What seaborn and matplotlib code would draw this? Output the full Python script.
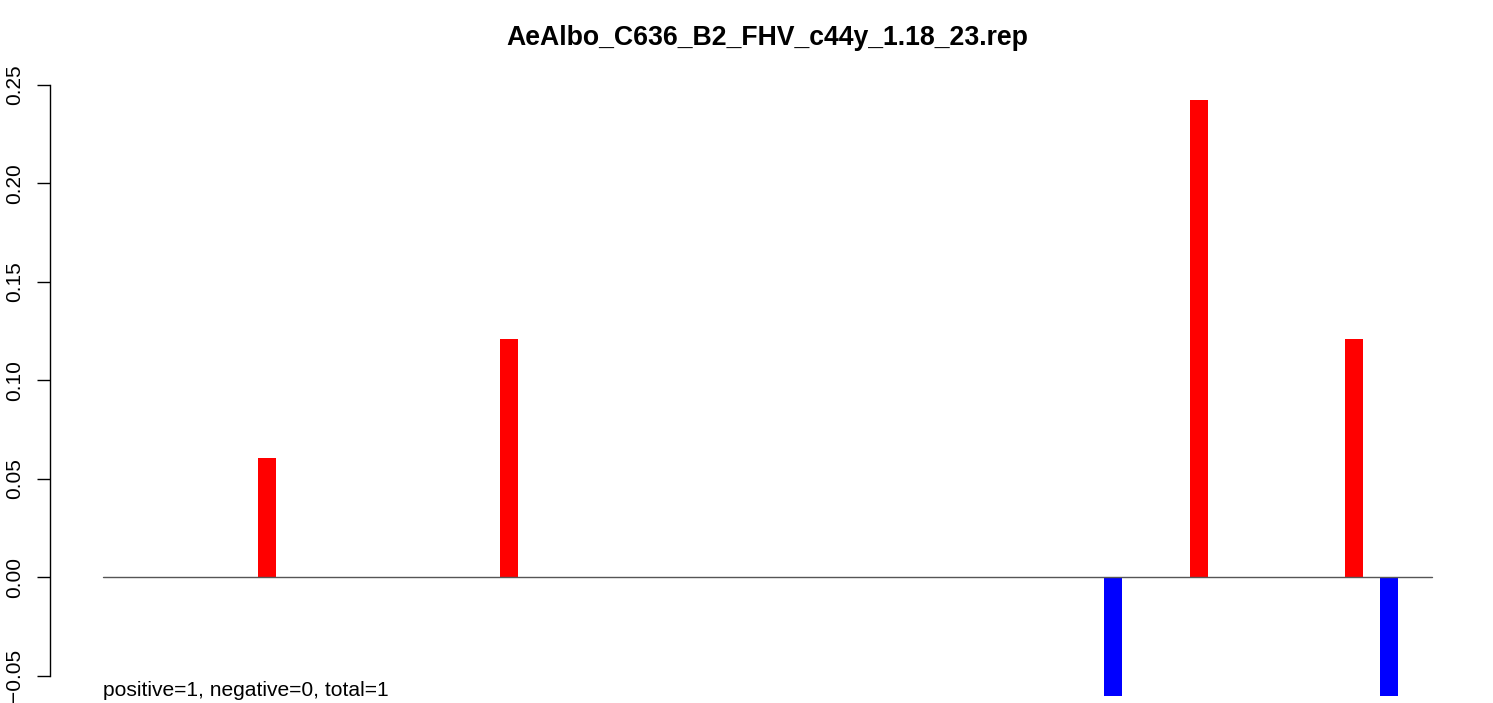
import matplotlib
matplotlib.use("Agg")
import matplotlib.pyplot as plt
import seaborn as sns
import pandas as pd

# read-out of the reference: positions along the read, sense (red) / antisense (blue)
positions = list(range(1, 78))
sense_pos = [10, 24, 64, 73]
sense_val = [0.0604, 0.1208, 0.2420, 0.1208]
antisense_pos = [59, 75]
antisense_val = [-0.0604, -0.0604]

ytick_values = [-0.05, 0.00, 0.05, 0.10, 0.15, 0.20, 0.25]
ytick_labels = ["\u22120.05", "0.00", "0.05", "0.10", "0.15", "0.20", "0.25"]

title = "AeAlbo_C636_B2_FHV_c44y_1.18_23.rep"
note = "positive=1, negative=0, total=1"

# build a long table, zero where there's nothing
sense_map = dict(zip(sense_pos, sense_val))
anti_map = dict(zip(antisense_pos, antisense_val))
rows = []
for p in positions:
    rows.append({"pos": p, "strand": "sense", "value": sense_map.get(p, 0.0)})
    rows.append({"pos": p, "strand": "antisense", "value": anti_map.get(p, 0.0)})
df = pd.DataFrame(rows)

sns.set_style("ticks")
plt.rcParams["font.family"] = ["Liberation Sans", "DejaVu Sans"]
plt.rcParams["text.color"] = "black"
plt.rcParams["ytick.color"] = "black"
plt.rcParams["ytick.labelcolor"] = "black"

W, H = 1493, 703
fig = plt.figure(figsize=(W / 100, H / 100), dpi=100)
ax = fig.add_axes([50 / W, 0, 1435 / W, 643 / H])

sns.barplot(
    data=df,
    x="pos",
    y="value",
    hue="strand",
    order=positions,
    hue_order=["sense", "antisense"],
    palette={"sense": "#ff0000", "antisense": "#0000ff"},
    saturation=1,
    dodge=False,
    width=1.04,
    linewidth=0,
    errorbar=None,
    legend=False,
    ax=ax,
)

n = len(positions)
ax.plot([-0.5, n - 0.5], [0, 0], color="#555555", lw=1.0, zorder=3)

ext = 53 / 17.26
ax.set_xlim(-0.5 - ext, n - 0.5 + ext)
ax.set_ylim(-0.0638, 0.2625)

ax.set_xticks([])
ax.set_xlabel("")
ax.set_ylabel("")
for s in ["top", "right", "bottom"]:
    ax.spines[s].set_visible(False)
ax.spines["left"].set_bounds(-0.05, 0.25)
ax.spines["left"].set_linewidth(1.0)
ax.spines["left"].set_color("black")

ax.set_yticks(ytick_values)
ax.set_yticklabels(ytick_labels, rotation=90, va="center", fontsize=15, color="black")
ax.tick_params(axis="y", length=9.4, width=1.0, pad=9, colors="black")

fig.text(767.5 / W, 1 - 38 / H, title, ha="center", va="center",
         fontsize=19.2, fontweight="bold", color="black")
ax.text(-0.5, -0.0575, note, ha="left", va="center", fontsize=15.1, color="black")

fig.savefig("out.png", dpi=100)
